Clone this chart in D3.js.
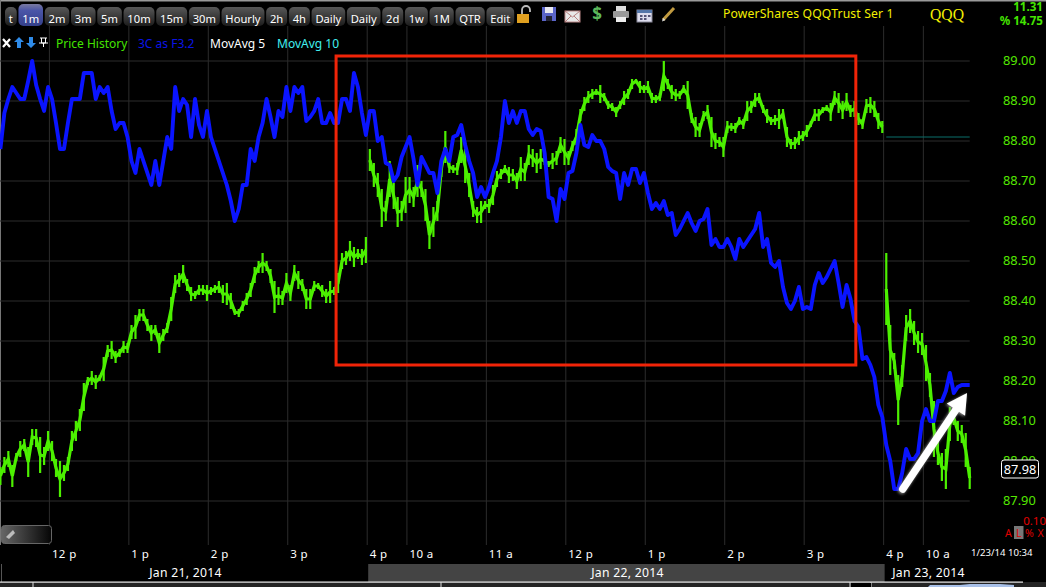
<!DOCTYPE html>
<html><head><meta charset="utf-8">
<script src="https://cdn.jsdelivr.net/npm/d3@7"></script>
<style>html,body{margin:0;padding:0;background:#000;overflow:hidden}svg{display:block}text{font-family:"Noto Sans",sans-serif}</style>
</head><body><svg id="c" width="1046" height="587"></svg>
<script>
// ---- data, one sample every 3 one-minute bars ----
const barsPerSample = 3;
const blueValues = [88.78,88.87,88.905,88.935,88.92,88.905,88.905,88.95,89.00,88.94,88.905,88.875,88.935,88.905,88.845,88.78,88.78,88.845,88.905,88.905,88.905,88.97,88.97,88.97,88.905,88.935,88.92,88.935,88.875,88.83,88.845,88.845,88.81,88.75,88.72,88.78,88.75,88.72,88.69,88.75,88.69,88.75,88.81,88.78,88.935,88.875,88.905,88.89,88.81,88.905,88.84,88.81,88.875,88.81,88.78,88.75,88.72,88.69,88.65,88.60,88.63,88.69,88.69,88.78,88.75,88.81,88.845,88.905,88.86,88.81,88.875,88.86,88.935,88.875,88.935,88.92,88.935,88.85,88.86,88.875,88.905,88.845,88.845,88.87,88.845,88.845,88.905,88.905,
88.875,88.97,88.935,88.87,88.815,88.875,88.875,88.80,88.81,88.745,88.74,88.70,88.715,88.76,88.785,88.81,88.755,88.69,88.76,88.74,88.72,88.72,88.67,88.75,88.78,88.75,88.81,88.815,88.84,88.79,88.75,88.72,88.66,88.685,88.66,88.685,88.72,88.75,88.81,88.90,88.845,88.875,88.845,88.875,88.875,88.83,88.815,88.83,88.825,88.77,88.66,88.655,88.60,88.68,88.655,88.72,88.725,88.77,88.84,88.79,88.785,88.815,88.80,
88.80,88.78,88.735,88.725,88.72,88.655,88.72,88.69,88.73,88.73,88.695,88.72,88.67,88.63,88.645,88.63,88.65,88.615,88.62,88.565,88.58,88.60,88.62,88.595,88.575,88.60,88.605,88.63,88.54,88.555,88.535,88.535,88.555,88.535,88.505,88.555,88.535,88.55,88.565,88.58,88.62,88.535,88.555,88.495,88.485,88.50,88.435,88.395,88.38,88.40,88.435,88.38,88.385,88.38,88.44,88.47,88.445,88.46,88.48,88.50,88.445,88.385,88.44,88.405,88.35,
88.335,88.255,88.26,88.24,88.21,88.14,88.11,88.04,88.00,87.93,87.93,87.97,88.03,88.005,88.005,88.02,88.10,88.13,88.10,88.10,88.15,88.15,88.175,88.22,88.17,88.185,88.19,88.19,88.19];
const priceHigh = [87.985,88.01,88.025,87.99,88.02,88.05,88.055,88.035,88.08,88.08,88.06,88.035,88.075,88.05,88.005,88.00,87.99,88.01,88.075,88.10,88.13,88.195,88.21,88.225,88.215,88.215,88.26,88.29,88.30,88.275,88.28,88.30,88.295,88.34,88.365,88.38,88.38,88.355,88.34,88.34,88.32,88.33,88.345,88.41,88.465,88.47,88.49,88.455,88.435,88.425,88.44,88.44,88.44,88.435,88.44,88.45,88.44,88.445,88.42,88.38,88.38,88.40,88.42,88.445,88.485,88.50,88.52,88.50,88.48,88.45,88.435,88.425,88.47,88.44,88.49,88.475,88.455,88.43,88.43,88.45,88.445,88.44,88.43,88.45,88.435,88.47,88.52,88.525,88.55,88.535,88.53,88.53,88.56,
88.78,88.745,88.72,88.68,88.65,88.75,88.695,88.66,88.65,88.71,88.71,88.685,88.74,88.70,88.68,88.60,88.635,88.65,88.75,88.825,88.75,88.74,88.745,88.81,88.78,88.72,88.65,88.635,88.65,88.65,88.655,88.69,88.725,88.73,88.74,88.735,88.73,88.72,88.76,88.745,88.79,88.78,88.77,88.78,88.76,88.75,88.77,88.775,88.81,88.805,88.775,88.80,88.83,88.88,88.91,88.925,88.93,88.93,
88.94,88.92,88.90,88.895,88.885,88.90,88.925,88.93,88.955,88.955,88.95,88.94,88.95,88.92,88.915,88.92,89.00,88.955,88.94,88.93,88.925,88.94,88.95,88.87,88.86,88.845,88.875,88.89,88.86,88.82,88.81,88.81,88.85,88.845,88.845,88.86,88.855,88.90,88.90,88.92,88.92,88.89,88.88,88.86,88.865,88.88,88.88,88.835,88.805,88.81,88.825,88.825,88.84,88.85,88.88,88.88,88.885,88.89,88.895,88.925,88.92,88.90,88.92,88.89,88.90,88.87,88.855,88.905,88.91,88.90,88.87,88.85,
88.52,88.34,88.27,88.215,88.24,88.365,88.38,88.35,88.325,88.32,88.29,88.22,88.15,88.05,88.02,88.03,88.135,88.125,88.10,88.09,88.07,87.985];
const priceLow = [87.94,87.97,87.985,87.935,88.00,88.01,88.025,87.96,88.04,88.035,87.97,87.99,88.025,88.00,87.96,87.91,87.95,87.975,88.025,88.05,88.075,88.125,88.19,88.19,88.18,88.20,88.20,88.26,88.255,88.245,88.26,88.27,88.27,88.305,88.305,88.35,88.35,88.325,88.30,88.315,88.27,88.30,88.32,88.35,88.42,88.435,88.445,88.425,88.40,88.405,88.415,88.415,88.40,88.415,88.42,88.42,88.395,88.39,88.38,88.365,88.36,88.375,88.39,88.41,88.445,88.47,88.47,88.475,88.445,88.37,88.39,88.39,88.42,88.40,88.45,88.43,88.425,88.38,88.38,88.425,88.43,88.41,88.395,88.395,88.415,88.42,88.48,88.49,88.50,88.485,88.505,88.49,88.495,
88.725,88.685,88.66,88.585,88.60,88.66,88.63,88.585,88.60,88.62,88.645,88.635,88.66,88.66,88.60,88.53,88.56,88.60,88.71,88.745,88.72,88.72,88.715,88.745,88.695,88.66,88.61,88.595,88.595,88.63,88.62,88.64,88.685,88.705,88.72,88.695,88.70,88.68,88.70,88.70,88.74,88.735,88.72,88.73,88.74,88.735,88.73,88.74,88.77,88.74,88.74,88.775,88.79,88.85,88.875,88.895,88.905,88.915,
88.895,88.90,88.88,88.875,88.86,88.88,88.89,88.905,88.93,88.945,88.92,88.92,88.92,88.895,88.895,88.90,88.925,88.93,88.905,88.90,88.905,88.92,88.88,88.845,88.81,88.81,88.85,88.855,88.785,88.78,88.785,88.76,88.82,88.825,88.82,88.84,88.83,88.85,88.87,88.885,88.895,88.87,88.845,88.84,88.84,88.83,88.855,88.785,88.78,88.78,88.79,88.80,88.81,88.835,88.85,88.85,88.87,88.875,88.85,88.89,88.87,88.855,88.875,88.86,88.86,88.84,88.83,88.87,88.87,88.86,88.83,88.82,
88.34,88.215,88.23,88.09,88.185,88.30,88.32,88.29,88.27,88.265,88.20,88.16,88.01,87.99,87.95,87.93,88.05,88.09,88.05,88.045,87.985,87.93];
const sessionStartSamples = [0,93,223];
const previousClose = 88.81, lastPrice = 87.98;
const priceTicks = [89.00,88.90,88.80,88.70,88.60,88.50,88.40,88.30,88.20,88.10,88.00,87.90];
const timeTickBars = [37,97,157,217,277,307,367,427,487,547,607,667,697];
const timeTickLabels = ["12 p","1 p","2 p","3 p","4 p","10 a","11 a","12 p","1 p","2 p","3 p","4 p","10 a"];
const tabs = ["t","1m","2m","3m","5m","10m","15m","30m","Hourly","2h","4h","Daily","Daily","2d","1w","1M","QTR","Edit"];
const legendItems = ["Price History","3C as F3.2","MovAvg 5","MovAvg 10"];
const legendColors = ["#44e400","#0a14e8","#ffffff","#40f0f0"];
const dayLabels = ["Jan 21, 2014","Jan 22, 2014","Jan 23, 2014"];
const boxBars = [253.5,646], boxPrices = [89.0125,88.24];
const arrowBars = [681.5,730], arrowPrices = [87.93,88.17];

// ---- scales ----
const x = d3.scaleLinear().domain([0,732]).range([0.4,969.7]);
const y = d3.scaleLinear().domain([87.9,89]).range([501,61]);
const svg = d3.select("#c");
const GREEN="#4cf000", BLUE="#0a14ff", GRID="#2c2c2c";
const defs = svg.append("defs");
const tg = defs.append("linearGradient").attr("id","tab").attr("x1",0).attr("x2",0).attr("y1",0).attr("y2",1);
tg.append("stop").attr("offset",0).attr("stop-color","#585858"); tg.append("stop").attr("offset",1).attr("stop-color","#1c1c1c");
const ts = defs.append("linearGradient").attr("id","tabSel").attr("x1",0).attr("x2",0).attr("y1",0).attr("y2",1);
ts.append("stop").attr("offset",0).attr("stop-color","#7a7aa0"); ts.append("stop").attr("offset",.3).attr("stop-color","#4a55a8"); ts.append("stop").attr("offset",1).attr("stop-color","#35408a");
const pg = defs.append("linearGradient").attr("id","pill");
pg.append("stop").attr("offset",0).attr("stop-color","#666"); pg.append("stop").attr("offset",1).attr("stop-color","#050505");
const sh = defs.append("filter").attr("id","shadow").attr("x","-20%").attr("y","-20%").attr("width","140%").attr("height","140%");
sh.append("feDropShadow").attr("dx",-1).attr("dy",1).attr("stdDeviation",1.6).attr("flood-color","#999");

svg.append("rect").attr("width",1046).attr("height",587).attr("fill","#000");
svg.append("rect").attr("width",1046).attr("height",1.5).attr("fill","#9a9a9a");
svg.append("rect").attr("width",1).attr("y",0).attr("height",545).attr("fill","#777");

// grid
svg.append("g").selectAll("line").data(priceTicks).join("line")
 .attr("x1",0).attr("x2",x(732)).attr("y1",d=>y(d)).attr("y2",d=>y(d)).attr("stroke",GRID).attr("stroke-width",1);
svg.append("g").selectAll("line").data(timeTickBars).join("line")
 .attr("x1",d=>x(d)).attr("x2",d=>x(d)).attr("y1",26).attr("y2",545).attr("stroke",GRID).attr("stroke-width",1);

// green price history: one path per session, plus high-low bars
const samples = priceHigh.map((h,i)=>({bar:i*barsPerSample,h,l:priceLow[i],i}));
const mid = d3.line().x(d=>x(d.bar)).y(d=>y((d.h+d.l)/2));
const prices = svg.append("g");
sessionStartSamples.forEach((s,k)=>{
  const e = k+1<sessionStartSamples.length?sessionStartSamples[k+1]:samples.length;
  prices.append("path").datum(samples.slice(s,e)).attr("d",mid).attr("fill","none").attr("stroke",GREEN).attr("stroke-width",3.2);
});
prices.selectAll("rect").data(samples).join("rect")
 .attr("x",d=>x(d.bar)-1.1).attr("width",2.2).attr("y",d=>y(d.h)).attr("height",d=>Math.max(1,y(d.l)-y(d.h))).attr("fill",GREEN);
// previous close
svg.append("line").attr("x1",x(669)).attr("x2",x(732)).attr("y1",y(previousClose)).attr("y2",y(previousClose)).attr("stroke","#0b6f6a").attr("stroke-width",1);

// blue
svg.append("path").datum(blueValues).attr("fill","none").attr("stroke",BLUE).attr("stroke-width",3.9).attr("stroke-linejoin","round")
 .attr("d",d3.line().x((d,i)=>x(i*barsPerSample)).y(d=>y(d)));

// red box
svg.append("rect").attr("x",x(boxBars[0])).attr("y",y(boxPrices[0])).attr("width",x(boxBars[1])-x(boxBars[0])).attr("height",y(boxPrices[1])-y(boxPrices[0]))
 .attr("fill","none").attr("stroke","#f02408").attr("stroke-width",3);

// arrow
const ax0=x(arrowBars[0]),ay0=y(arrowPrices[0]),ax1=x(arrowBars[1]),ay1=y(arrowPrices[1]);
const ang=Math.atan2(ay1-ay0,ax1-ax0), ux=Math.cos(ang), uy=Math.sin(ang);
const ag=svg.append("g").attr("filter","url(#shadow)");
ag.append("line").attr("x1",ax0).attr("y1",ay0).attr("x2",ax1-ux*12).attr("y2",ay1-uy*12).attr("stroke","#fff").attr("stroke-width",7.5).attr("stroke-linecap","round");
ag.append("path").attr("fill","#fff").attr("d",`M${ax1},${ay1}L${ax1-ux*20+uy*11},${ay1-uy*20-ux*11}L${ax1-ux*20-uy*11},${ay1-uy*20+ux*11}Z`);

// y labels
svg.append("g").selectAll("text").data(priceTicks).join("text")
 .attr("x",1003).attr("y",d=>y(d)+3.8).attr("fill","#55e800").attr("font-size",12.8).text(d=>d.toFixed(2));
svg.append("rect").attr("x",1001.5).attr("y",y(lastPrice)-9).attr("width",37).attr("height",18).attr("rx",2.5).attr("fill","#000").attr("stroke","#fff");
svg.append("text").attr("x",1020).attr("y",y(lastPrice)+4.5).attr("text-anchor","middle").attr("fill","#fff").attr("font-size",12.8).text(lastPrice.toFixed(2));
svg.append("text").attr("x",1046).attr("y",525).attr("text-anchor","end").attr("fill","#e00000").attr("font-size",11.5).text("0.10");
svg.append("rect").attr("x",1014).attr("y",526).attr("width",9.5).attr("height",13).attr("fill","#777");
[["A",1005],["L",1016],["%",1025],["X",1037.5]].forEach(([t,px])=>svg.append("text").attr("x",px).attr("y",537).attr("fill","#e00000").attr("font-size",10.5).text(t));
svg.append("text").attr("x",971).attr("y",556).attr("fill","#fff").attr("font-size",9.6).text("1/23/14 10:34");

// x labels
svg.append("g").selectAll("text").data(timeTickBars).join("text")
 .attr("x",d=>x(d)+2.5).attr("y",558).attr("fill","#fff").attr("font-size",11.5).attr("letter-spacing",.4).text((d,i)=>timeTickLabels[i]);

// date band
svg.append("rect").attr("x",x(277)+1).attr("y",564).attr("width",x(667)-x(277)).attr("height",18).attr("fill","#444");
svg.append("line").attr("x1",1.5).attr("x2",1.5).attr("y1",564).attr("y2",582).attr("stroke","#555");
[[185.5],[627.5],[928.5]].forEach(([px],i)=>svg.append("text").attr("x",px).attr("y",577).attr("text-anchor","middle").attr("fill","#fff").attr("font-size",12.2).attr("letter-spacing",.3).text(dayLabels[i]));
svg.append("rect").attr("y",582).attr("width",1046).attr("height",5).attr("fill","#242424");
svg.append("rect").attr("y",581.5).attr("width",1023).attr("height",1.2).attr("fill","#eee");
[33,441,850,871].forEach(px=>svg.append("rect").attr("x",px-.5).attr("y",582).attr("width",1).attr("height",5).attr("fill","#ddd"));
svg.append("rect").attr("x",851).attr("y",583).attr("width",20).attr("height",4).attr("fill","#000");
svg.append("path").attr("fill","#a8c0e8").attr("d","M928,587L930,585L960,585L970,584L1000,584L1014,585L1014,587Z");

// tabs
const tabG=svg.append("g"); let tx=5;
tabs.forEach((t,i)=>{
  const g=tabG.append("g");
  const sel=i===1, top=sel?4:7;
  const r=g.append("rect").attr("y",top).attr("height",26-top).attr("rx",5).attr("fill",sel?"url(#tabSel)":"url(#tab)");
  const tt=g.append("text").attr("y",23).attr("fill","#fff").attr("font-size",11.2).text(t);
  const w=tt.node().getComputedTextLength()+7.7;
  r.attr("x",tx).attr("width",w); tt.attr("x",tx+3.8);
  tx+=w+1.7;
});

// toolbar icons
const ic=svg.append("g");
ic.append("rect").attr("x",517).attr("y",14).attr("width",12).attr("height",9).attr("fill","#e0a020");
ic.append("path").attr("d","M522,14v-4a4,4 0 0 1 8,0v2").attr("fill","none").attr("stroke","#bbb").attr("stroke-width",1.8);
ic.append("rect").attr("x",542).attr("y",7).attr("width",14).attr("height",14).attr("fill","#5a64c8");
ic.append("rect").attr("x",545).attr("y",7).attr("width",8).attr("height",6).attr("fill","#e8e8f0");
ic.append("rect").attr("x",546).attr("y",16).attr("width",6).attr("height",5).attr("fill","#223");
ic.append("rect").attr("x",565).attr("y",11).attr("width",15).attr("height",11).attr("fill","#e8e8e8").attr("stroke","#b88");
ic.append("path").attr("d","M565,11L572.5,17L580,11M565,22L571,16M580,22L574,16").attr("fill","none").attr("stroke","#a66").attr("stroke-width",.8);
ic.append("text").attr("x",597).attr("y",20).attr("text-anchor","middle").attr("font-size",17).attr("font-weight",700).attr("fill","#5cb85c").text("$");
ic.append("rect").attr("x",616).attr("y",6).attr("width",10).attr("height",6).attr("fill","#ddd");
ic.append("rect").attr("x",613).attr("y",11).attr("width",16).attr("height",7).attr("rx",1).attr("fill","#999");
ic.append("rect").attr("x",616).attr("y",17).attr("width",10).attr("height",5).attr("fill","#eee");
ic.append("rect").attr("x",637).attr("y",10).attr("width",15).attr("height",12).attr("fill","#dde").attr("stroke","#889");
ic.append("rect").attr("x",637).attr("y",10).attr("width",15).attr("height",3).attr("fill","#5577aa");
[[640,15],[644,15],[648,15],[640,18],[644,18]].forEach(([a,b])=>ic.append("rect").attr("x",a).attr("y",b).attr("width",2.5).attr("height",2).attr("fill","#557"));
ic.append("path").attr("d","M663,20L674,8").attr("stroke","#c09a40").attr("stroke-width",3);
ic.append("path").attr("d","M662,21.5L663,18L665.5,20Z").attr("fill","#ddd");

// title texts
svg.append("text").attr("x",723).attr("y",18).attr("fill","#f4f000").attr("font-size",12.2).attr("letter-spacing",.15).text("PowerShares QQQTrust Ser 1");
svg.append("text").attr("x",930).attr("y",20).attr("fill","#f4f000").attr("font-size",17.5).style("font-family","'Liberation Serif'").attr("textLength",34).attr("lengthAdjust","spacingAndGlyphs").text("QQQ");
svg.append("text").attr("x",1043).attr("y",11).attr("text-anchor","end").attr("fill","#44e400").attr("font-size",11.6).attr("font-weight",700).text("11.31");
svg.append("text").attr("x",1043).attr("y",25).attr("text-anchor","end").attr("fill","#44e400").attr("font-size",11.6).attr("font-weight",700).text("% 14.75");

// legend row
const lg=svg.append("g");
lg.append("path").attr("d","M3,39L10,47M10,39L3,47").attr("stroke","#fff").attr("stroke-width",2.2);
lg.append("path").attr("d","M19,37L24,42H21V48H17V42H14Z").attr("fill","#2f8be8");
lg.append("path").attr("d","M31,48L26,43H29V37H33V43H36Z").attr("fill","#2f8be8");
lg.append("path").attr("d","M40,38H47M41.5,38V43H45.500V38M39,43H48M43.5,43V47").attr("fill","none").attr("stroke","#fff");
const legendX=[56,138,210,277];
legendItems.forEach((t,i)=>lg.append("text").attr("x",legendX[i]).attr("y",48).attr("fill",legendColors[i]).attr("font-size",12).text(t));

// scroll pill
svg.append("rect").attr("x",1.5).attr("y",525.500).attr("width",50).attr("height",18).attr("rx",3).attr("fill","url(#pill)").attr("stroke","#666");
svg.append("path").attr("d","M6,537L13,530L15,533L9,539Z").attr("fill","#bbb");
</script></body></html>
